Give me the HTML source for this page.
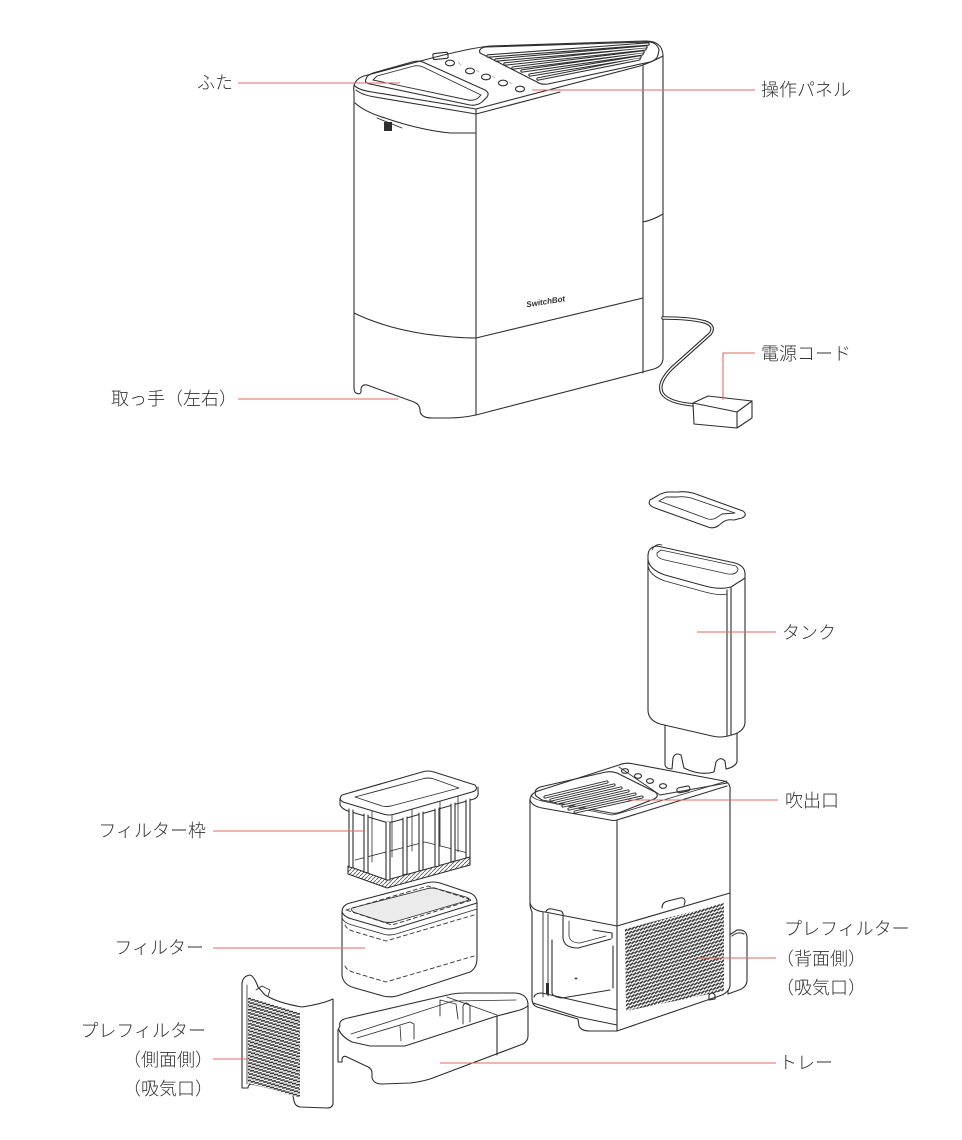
<!DOCTYPE html>
<html><head><meta charset="utf-8">
<style>
html,body{margin:0;padding:0;background:#fff;}
svg{display:block}
text{font-family:"Liberation Sans","Noto Sans CJK JP",sans-serif;font-size:18px;fill:#333;font-weight:300}
</style></head><body>
<svg width="962" height="1140" viewBox="0 0 962 1140" xmlns="http://www.w3.org/2000/svg">
<defs>
<pattern id="meshR" patternUnits="userSpaceOnUse" width="4" height="3.4" patternTransform="rotate(-17)">
 <rect width="4" height="3.4" fill="#fff"/>
 <path d="M0.3,2.4 L3.4,1.1" stroke="#333" stroke-width="1.6" stroke-linecap="round"/>
</pattern>
<pattern id="meshL" patternUnits="userSpaceOnUse" width="4" height="3.4" patternTransform="rotate(17)">
 <rect width="4" height="3.4" fill="#fff"/>
 <path d="M0.3,2.4 L3.4,1.1" stroke="#333" stroke-width="1.6" stroke-linecap="round"/>
</pattern>
<pattern id="hatch" patternUnits="userSpaceOnUse" width="4" height="4">
 <rect width="4" height="4" fill="#fff"/>
 <path d="M0,4 L4,0" stroke="#555" stroke-width="0.8"/>
</pattern>
</defs>

<!-- ================= TOP UNIT ================= -->
<g fill="none" stroke="#2e2e2e" stroke-width="1.1" stroke-linejoin="round" stroke-linecap="round">
 <path fill="#fff" d="M354,92 Q352,80 364,76 L428,59 Q470,48 490,46 L646,41 Q662,41 663,55 L663,358 Q663,366 654,369 L476,415 Q462,418 448,418 L432,418 Q421,418 420,411 L420,409 Q419,404 414,402 L367,385 Q362,384 361,389 L361,392 Q360,395 356,393 Q354,392 354,388 Z"/>
 <path d="M476,109 L476,415"/>
 <path d="M643,66 L643,373"/>
 <path d="M643,222 Q653,220 663,214"/>
 <path d="M354,313 Q385,328 425,334 Q455,338 476,338 L643,298"/>
 <path d="M354,85 Q358,90 372,92 L470,108 L476,109 L640,66 Q652,62 663,56"/>
 <path d="M356,90 Q362,95 375,97 L470,113 L476,114 L560,92"/>
 <path d="M355,103 Q365,112 385,118 Q420,130 450,133 L476,133"/>
 <path d="M366,79 Q364,83 370,84 L470,105 Q477,106 482,102 L487,97 Q490,93 485,90 L425,63 Q419,60 412,62 L373,73 Q367,75 366,79 Z"/>
 <path d="M373,80 L468,100 Q474,101 478,98 L481,95 L423,67 Q419,65 414,66 L377,76 Z" stroke-width="0.9"/>
 <path d="M480,53 Q478,48 486,47 L648,42 Q657,42 659,50 L658,55 Q657,60 650,62 L548,84 Q541,85 537,82 Z"/>
 <g stroke-width="3.4"><path d="M488,56 L648,44"/><path d="M496,60 L646,47"/><path d="M505,64 L645,49"/><path d="M513,68 L643,52"/><path d="M522,71 L642,54"/><path d="M530,75 L640,57"/><path d="M538,79 L639,59"/></g>
 <g stroke="#fff" stroke-width="1.3"><path d="M488,56 L648,44"/><path d="M496,60 L646,47"/><path d="M505,64 L645,49"/><path d="M513,68 L643,52"/><path d="M522,71 L642,54"/><path d="M530,75 L640,57"/><path d="M538,79 L639,59"/></g>
 <rect x="433" y="53" width="15" height="6" rx="1.5" transform="rotate(-6 440 56)"/>
 <ellipse cx="450" cy="63" rx="4.5" ry="2.8"/>
 <ellipse cx="470" cy="71" rx="4.5" ry="2.8"/>
 <ellipse cx="486" cy="77" rx="4.5" ry="2.8"/>
 <ellipse cx="503" cy="83" rx="4.5" ry="2.8"/>
 <ellipse cx="520" cy="89" rx="4.5" ry="2.8"/>
 <g stroke="#999" stroke-width="0.7"><path d="M458,62 l3,3"/><path d="M476,70 l3,2"/><path d="M492,76 l3,2"/><path d="M509,82 l3,2"/></g>
 <path d="M377,118 L402,128" stroke-width="0.9"/>
 <rect x="384" y="122" width="8" height="9" fill="#2e2e2e" stroke="none"/>
 <path d="M663,318 Q690,318 705,322 Q716,326 710,334 L672,368 Q657,383 662,393 Q668,403 695,405" stroke-width="3.6"/>
 <path d="M663,318 Q690,318 705,322 Q716,326 710,334 L672,368 Q657,383 662,393 Q668,403 695,405" stroke="#fff" stroke-width="1.4"/>
 <path fill="#fff" d="M693,403 L708,396 L752,401 L752,418 L737,428 L694,424 Z"/>
 <path d="M693,403 L737,412 L752,401 M737,412 L737,428"/>
</g>
<text x="526" y="305" transform="rotate(-9 541 301)" style="font-size:8px;font-weight:bold;font-style:italic;fill:#2e2e2e;font-family:'Liberation Sans',sans-serif">SwitchBot</text>

<!-- ================= TANK LID ================= -->
<g fill="#fff" stroke="#2e2e2e" stroke-width="1.1" stroke-linejoin="round">
 <path d="M650,500 Q647,505 655,508 L708,527 Q713,529 718,526 L723,522 Q727,519 734,520 L742,518 Q748,515 743,511 L693,493 Q685,491 678,492 L668,492 Q661,493 657,496 Z"/>
 <path fill="none" stroke-width="0.9" d="M659,501 L708,519 Q712,520 716,518 L722,514 L735,513 L691,498 Q684,496 677,497 L666,497 Z"/>
</g>

<!-- ================= LOWER MAIN UNIT ================= -->
<g fill="none" stroke="#2e2e2e" stroke-width="1.1" stroke-linejoin="round" stroke-linecap="round">
 <path fill="#fff" d="M728,936 L737,930 Q747,929 747,938 L747,980 Q747,987 739,990 L728,994 Z"/>
 <path d="M732,936 Q738,931 744,934"/>
 <path fill="#fff" d="M530,803 Q529,794 538,791 L619,765 Q626,762 634,764 L724,781 Q731,783 730,791 L730,985 Q730,991 722,995 L617,1031 L590,1031 Q581,1031 579,1026 L578,1019 L537,1007 Q532,1005 532,999 L532,912 Q530,908 530,903 Z"/>
 <path d="M617,820 L617,1031"/>
 <path d="M530,800 Q532,806 542,808 L610,820 Q614,821 617,820 L727,786"/>
 <path d="M531,795 Q533,799 542,801 L612,815 L617,814 L727,781" stroke-width="0.8"/>
 <path d="M530,903 Q532,911 545,912 L617,926"/>
 <path d="M617,926 L730,893"/>
 <path d="M662,908 Q662,902 668,901 L680,898 Q685,897 685,902 L684,905"/>
 <path fill="url(#meshR)" stroke="none" d="M625,929 L724,903 L724,991 L626,1011 Z"/>
 <path d="M709,1000 L709,995 Q712,991 715,995 L715,999 Z"/>
 <path d="M536,796 Q533,790 540,787 L606,772 Q612,771 617,773 L655,792 Q660,796 654,799 L621,812 Q616,814 611,813 L542,800 Z"/>
 <g stroke-width="3.2"><path d="M545,797 L607,782"/><path d="M551,800 L614,785"/><path d="M557,803 L621,788"/><path d="M563,806 L628,791"/><path d="M569,809 L635,794"/><path d="M575,812 L642,797"/></g>
 <g stroke="#fff" stroke-width="1.2"><path d="M545,797 L607,782"/><path d="M551,800 L614,785"/><path d="M557,803 L621,788"/><path d="M563,806 L628,791"/><path d="M569,809 L635,794"/><path d="M575,812 L642,797"/></g>
 <path d="M619,767 L660,795 L727,783" stroke-width="0.9"/>
 <ellipse cx="625" cy="771" rx="3.5" ry="2.3"/>
 <ellipse cx="638" cy="776" rx="3.5" ry="2.3"/>
 <ellipse cx="650" cy="781" rx="3.5" ry="2.3"/>
 <ellipse cx="663" cy="786" rx="3.5" ry="2.3"/>
 <rect x="677" y="787" width="13" height="5" rx="2" transform="rotate(-12 683 790)"/>
 <path d="M543,912 L543,997 M548,914 L548,996" stroke-width="0.9"/>
 <path d="M546,912 Q547,908 552,909 L561,911 Q564,913 563,918"/>
 <path d="M563,918 L563,938 Q564,948 578,948 L611,939"/>
 <path d="M569,921 L569,936 Q570,943 580,943 L606,936" stroke-width="0.8"/>
 <path d="M593,930 L612,933 L612,938"/>
 <path d="M552,940 L552,993 Q553,997 562,998 L610,990 M613,946 L613,988"/>
 <path d="M575,978 q1,2 2,0"/>
 <rect x="546" y="983" width="3" height="11" fill="#2e2e2e" stroke="none"/>
 <path d="M534,997 Q535,993 542,993 L617,1010"/>
 <path d="M533,1003 L578,1017 L617,1025"/>
</g>

<!-- ================= TANK ================= -->
<g fill="#fff" stroke="#2e2e2e" stroke-width="1.1" stroke-linejoin="round" stroke-linecap="round">
 <path d="M665,715 L665,765 Q666,769 672,769 L673,758 Q675,752 681,755 L684,768 Q700,776 714,772 L716,762 Q720,756 725,761 L726,769 Q735,767 737,762 L737,720 Z"/>
 <path d="M648,556 Q648,547 657,546 L735,563 Q745,566 745,574 L745,722 Q745,730 735,734 L728,736 Q720,738 712,736 L660,724 Q648,720 648,710 Z"/>
 <path fill="none" d="M648,560 Q650,570 665,575 L705,586 Q720,590 731,587 L745,578"/>
 <path fill="none" d="M648,566 Q650,576 665,581 L705,592 Q720,596 727,594" stroke-width="0.9"/>
 <path fill="none" d="M727,590 L727,736 M731,588 L731,735"/>
 <path fill="none" d="M657,553 Q656,558 665,560 L728,574 Q737,575 738,569 L736,566 L661,550 Z" stroke-width="0.8"/>
 <path fill="none" d="M652,550 Q655,543 662,545" stroke-width="0.9"/>
</g>

<!-- ================= FILTER FRAME ================= -->
<g fill="none" stroke="#2e2e2e" stroke-width="1.1" stroke-linejoin="round" stroke-linecap="round">
 <g stroke-width="0.8"><path d="M372,795 L372,862"/><path d="M392,790 L392,857"/><path d="M412,784 L412,851"/><path d="M440,782 L440,846"/><path d="M458,787 L458,852"/></g>
 <path fill="url(#hatch)" d="M348,866 L387,880 L470,857 L470,865 L387,888 L348,874 Z"/>
 <path d="M355,860 L425,842 L468,853" stroke-width="0.8"/>
 <path fill="#fff" d="M342,795 Q338,799 343,802 L383,814 Q389,816 395,814 L472,792 Q479,790 475,785 L434,772 Q428,770 422,772 Z"/>
 <path d="M340,799 L340,805 Q342,809 348,811 L385,822 Q390,823 396,821 L474,799 Q479,797 478,792 L478,787"/>
 <path d="M355,797 L422,779 Q428,777 434,779 L459,788 L391,806 Q386,807 382,806 Z" stroke-width="0.9"/>
 <g fill="#fff">
  <path d="M349,809 L349,867 L353,868 L353,810"/>
  <path d="M364,814 L364,872 L368,873 L368,815"/>
  <path d="M386,822 L386,880 L390,880 L390,822"/>
  <path d="M403,818 L403,875 L407,874 L407,817"/>
  <path d="M419,813 L419,871 L423,870 L423,812"/>
  <path d="M435,809 L435,867 L439,866 L439,808"/>
  <path d="M451,804 L451,862 L455,861 L455,803"/>
  <path d="M466,800 L466,858 L470,857 L470,799"/>
 </g>
</g>

<!-- ================= FILTER ================= -->
<g fill="none" stroke="#2e2e2e" stroke-width="1.1" stroke-linejoin="round" stroke-linecap="round">
 <path fill="#fff" d="M342,912 Q342,905 350,903 L426,883 Q433,881 440,883 L470,893 Q477,896 477,903 L477,958 Q477,968 470,972 L400,995 Q392,998 383,996 L355,988 Q343,985 342,975 Z"/>
 <path d="M342,912 Q344,917 352,919 L383,928 Q389,930 396,928 L477,903"/>
 <path d="M342,918 Q344,923 352,925 L383,934 Q389,936 396,934 L477,909" stroke-width="0.9"/>
 <path fill="#ebebeb" d="M352,908 Q350,911 356,913 L384,922 Q389,923 394,922 L466,901 Q472,899 466,897 L438,889 Q432,887 426,889 Z" stroke-width="0.9"/>
 <g stroke-dasharray="4 3" stroke-width="0.9">
  <path d="M346,910 L428,886 L472,900 L392,925 Z"/>
  <path d="M345,925 Q347,930 356,932 L386,941 L474,915"/>
  <path d="M345,966 Q347,971 356,973 L386,982 L474,956"/>
 </g>
</g>

<!-- ================= TRAY ================= -->
<g fill="none" stroke="#2e2e2e" stroke-width="1.1" stroke-linejoin="round" stroke-linecap="round">
 <path fill="#fff" d="M340,1026 Q338,1020 348,1018 L452,994 Q458,993 465,993 L515,993 Q528,994 528,1005 L528,1036 Q528,1041 523,1044 L430,1079 Q420,1082 410,1083 L382,1084 Q374,1084 372,1078 L372,1073 Q372,1068 366,1066 L347,1057 Q343,1055 342,1059 L342,1062 L338,1062 L338,1030 Z"/>
 <path d="M339,1030 Q342,1037 352,1042 L370,1046 L405,1046 L497,1016 L520,1010 Q528,1007 528,1005"/>
 <path d="M351,1034 L453,1001 L516,1000" stroke-width="0.8"/>
 <path d="M497,1016 L497,1055"/>
 <path d="M357,1038 L410,1022 L414,1024 L414,1039" stroke-width="0.9"/>
 <path d="M400,1026 L401,1041" stroke-width="0.8"/>
 <path d="M440,1016 L440,1000 L456,1004 L458,1019" stroke-width="0.9"/>
 <path d="M463,1024 L463,1006 Q466,1000 470,1006 L470,1022" stroke-width="0.9"/>
 <path d="M447,997 L497,1015" stroke-width="0.9"/>
</g>

<!-- ================= PREFILTER SIDE ================= -->
<g fill="none" stroke="#2e2e2e" stroke-width="1.1" stroke-linejoin="round" stroke-linecap="round">
 <path fill="#fff" d="M242,1086 L242,983 Q243,976 250,975 Q254,976 258,987 L265,995 Q278,1003 302,1007 Q322,1004 333,999 L333,1103 Q333,1108 327,1108 L300,1107 Q295,1106 294,1101 L293,1096 Q291,1093 285,1092 L252,1084 Q248,1084 248,1088 L242,1088 Z"/>
 <path d="M247,985 L247,1084" stroke-width="0.8"/>
 <path d="M256,990 L262,986 L270,990 L268,996" stroke-width="0.9"/>
 <path fill="url(#meshL)" stroke="none" d="M248,997 L300,1013 L300,1098 L248,1083 Z"/>
</g>

<!-- ================= LEADER LINES ================= -->
<g stroke="#e46a64" stroke-width="1.1" fill="none">
 <path d="M238,83 L400,83"/>
 <path d="M532,90 L755,90"/>
 <path d="M755,353 L723,353 L723,400"/>
 <path d="M238,399 L398,399"/>
 <path d="M697,632 L776,632"/>
 <path d="M628,800 L778,800"/>
 <path d="M698,958 L776,958"/>
 <path d="M440,1063 L776,1063"/>
 <path d="M213,831 L365,831"/>
 <path d="M213,948 L365,948"/>
 <path d="M213,1059 L248,1059"/>
</g>

<!-- ================= LABELS ================= -->
<text x="233" y="89" text-anchor="end">ふた</text>
<text x="237" y="405" text-anchor="end">取っ手（左右）</text>
<text x="761" y="96">操作パネル</text>
<text x="761" y="360">電源コード</text>
<text x="782" y="639">タンク</text>
<text x="785" y="807">吹出口</text>
<text x="784" y="935">プレフィルター</text>
<text x="776" y="965">（背面側）</text>
<text x="776" y="994">（吸気口）</text>
<text x="779" y="1069">トレー</text>
<text x="206" y="837" text-anchor="end">フィルター枠</text>
<text x="204" y="954" text-anchor="end">フィルター</text>
<text x="206" y="1037" text-anchor="end">プレフィルター</text>
<text x="213" y="1066" text-anchor="end">（側面側）</text>
<text x="213" y="1095" text-anchor="end">（吸気口）</text>
</svg>
</body></html>
